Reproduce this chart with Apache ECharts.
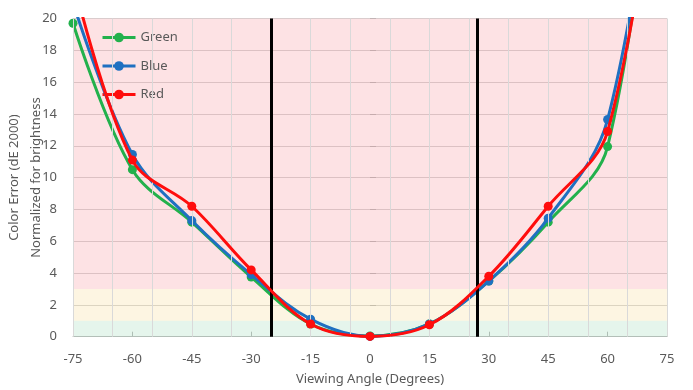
<!DOCTYPE html>
<html>
<head>
<meta charset="utf-8">
<script src="https://cdn.jsdelivr.net/npm/echarts@6/dist/echarts.min.js"></script>
<style>html,body{margin:0;padding:0;background:#fff}#c{width:693px;height:390px}</style>
</head>
<body>
<div id="c"></div>
<script>
const angles = [-75, -60, -45, -30, -15, 0, 15, 30, 45, 60, 75];
const green = [19.7, 10.5, 7.2, 3.75, 0.8, 0.05, 0.8, 3.5, 7.2, 11.95, 38];
const blue  = [21.0, 11.45, 7.3, 3.9, 1.1, 0.02, 0.8, 3.5, 7.45, 13.65, 36];
const red   = [22.5, 11.1, 8.2, 4.2, 0.8, 0.02, 0.75, 3.8, 8.2, 12.9, 35];
const xTicks = [-75, -60, -45, -30, -15, 0, 15, 30, 45, 60, 75];
const yTicks = [0, 2, 4, 6, 8, 10, 12, 14, 16, 18, 20];
const vGrid = [-75, -65, -55, -45, -35, -25, -15, -5, 5, 15, 25, 35, 45, 55, 65, 75];
const bands = [
  {from: 0, to: 1, color: 'rgba(82,188,128,0.15)'},
  {from: 1, to: 3, color: 'rgba(242,188,62,0.15)'},
  {from: 3, to: 20, color: 'rgba(242,62,75,0.15)'}
];
const limits = [-25, 27];

const FONT = 'Noto Sans';
const TXT = '#595959';
const pair = (xs, ys) => xs.map((x, i) => [x, ys[i]]);

const chart = echarts.init(document.getElementById('c'));
const lineSeries = (name, data, color, z) => ({
  name, type: 'line', data: pair(angles, data), smooth: 0.35,
  symbol: 'circle', symbolSize: 9, z,
  lineStyle: {color, width: 3}, itemStyle: {color},
  clip: true
});

chart.setOption({
  animation: false,
  textStyle: {fontFamily: FONT},
  grid: {left: 73, right: 26, top: 18.5, bottom: 53.3, outerBoundsMode: 'none', containLabel: false},
  legend: {
    orient: 'vertical', left: 101, top: 31, padding: 0,
    itemWidth: 33, itemHeight: 12, itemGap: 15.5,
    lineStyle: {width: 3, type: 'solid'},
    textStyle: {color: TXT, fontSize: 13, fontFamily: FONT},
    data: ['Green', 'Blue', 'Red']
  },
  xAxis: [{
    type: 'value', min: xTicks[0], max: xTicks[xTicks.length - 1], interval: 15,
    name: 'Viewing Angle (Degrees)', nameLocation: 'middle', nameGap: 36,
    nameMoveOverlap: false,
    nameTextStyle: {color: TXT, fontSize: 13, fontFamily: FONT},
    axisLine: {show: true, lineStyle: {color: '#bfbfbf', width: 1}},
    axisTick: {show: false},
    axisLabel: {color: TXT, fontSize: 13, margin: 16, fontFamily: FONT},
    splitLine: {show: false}
  }, {
    type: 'value', position: 'top', min: xTicks[0], max: xTicks[xTicks.length - 1], interval: 15,
    axisLine: {show: false},
    axisTick: {show: true, length: 5, lineStyle: {color: '#bfbfbf'}},
    axisLabel: {show: false}, splitLine: {show: false}
  }],
  yAxis: [{
    type: 'value', min: yTicks[0], max: yTicks[yTicks.length - 1], interval: 2,
    name: 'Color Error (dE 2000)\nNormalized for brightness',
    nameLocation: 'middle', nameGap: 26, nameRotate: 90, nameMoveOverlap: false,
    nameTextStyle: {color: TXT, fontSize: 13, lineHeight: 22, fontFamily: FONT},
    axisLine: {show: false}, axisTick: {show: false},
    axisLabel: {color: TXT, fontSize: 13, margin: 16, fontFamily: FONT},
    splitLine: {show: true, lineStyle: {color: '#d9d9d9', width: 1}}
  }, {
    type: 'value', position: 'right', min: yTicks[0], max: yTicks[yTicks.length - 1], interval: 2,
    axisLine: {show: false},
    axisTick: {show: true, length: 6, lineStyle: {color: '#bfbfbf'}},
    axisLabel: {show: false}, splitLine: {show: false}
  }],
  series: [
    {
      name: 'grid', type: 'line', data: [], z: 1, silent: true,
      markLine: {
        silent: true, symbol: 'none', animation: false,
        label: {show: false},
        lineStyle: {color: '#d9d9d9', type: 'solid', width: 1},
        data: vGrid.map(v => ({xAxis: v}))
      }
    },
    {
      name: 'bands', type: 'line', data: [], z: 1.5, silent: true,
      markArea: {
        silent: true,
        data: bands.map(b => [{yAxis: b.from, itemStyle: {color: b.color}}, {yAxis: b.to}])
      }
    },
    lineSeries('Green', green, '#22b14c', 3),
    lineSeries('Blue', blue, '#1f70c1', 4),
    lineSeries('Red', red, '#ff0d0d', 5),
    {
      name: 'limits', type: 'line', data: [], z: 10, silent: true,
      markLine: {
        silent: true, symbol: 'none', animation: false,
        label: {show: false},
        lineStyle: {color: '#000', type: 'solid', width: 3},
        data: limits.map(v => ({xAxis: v}))
      }
    }
  ]
});
</script>
</body>
</html>
